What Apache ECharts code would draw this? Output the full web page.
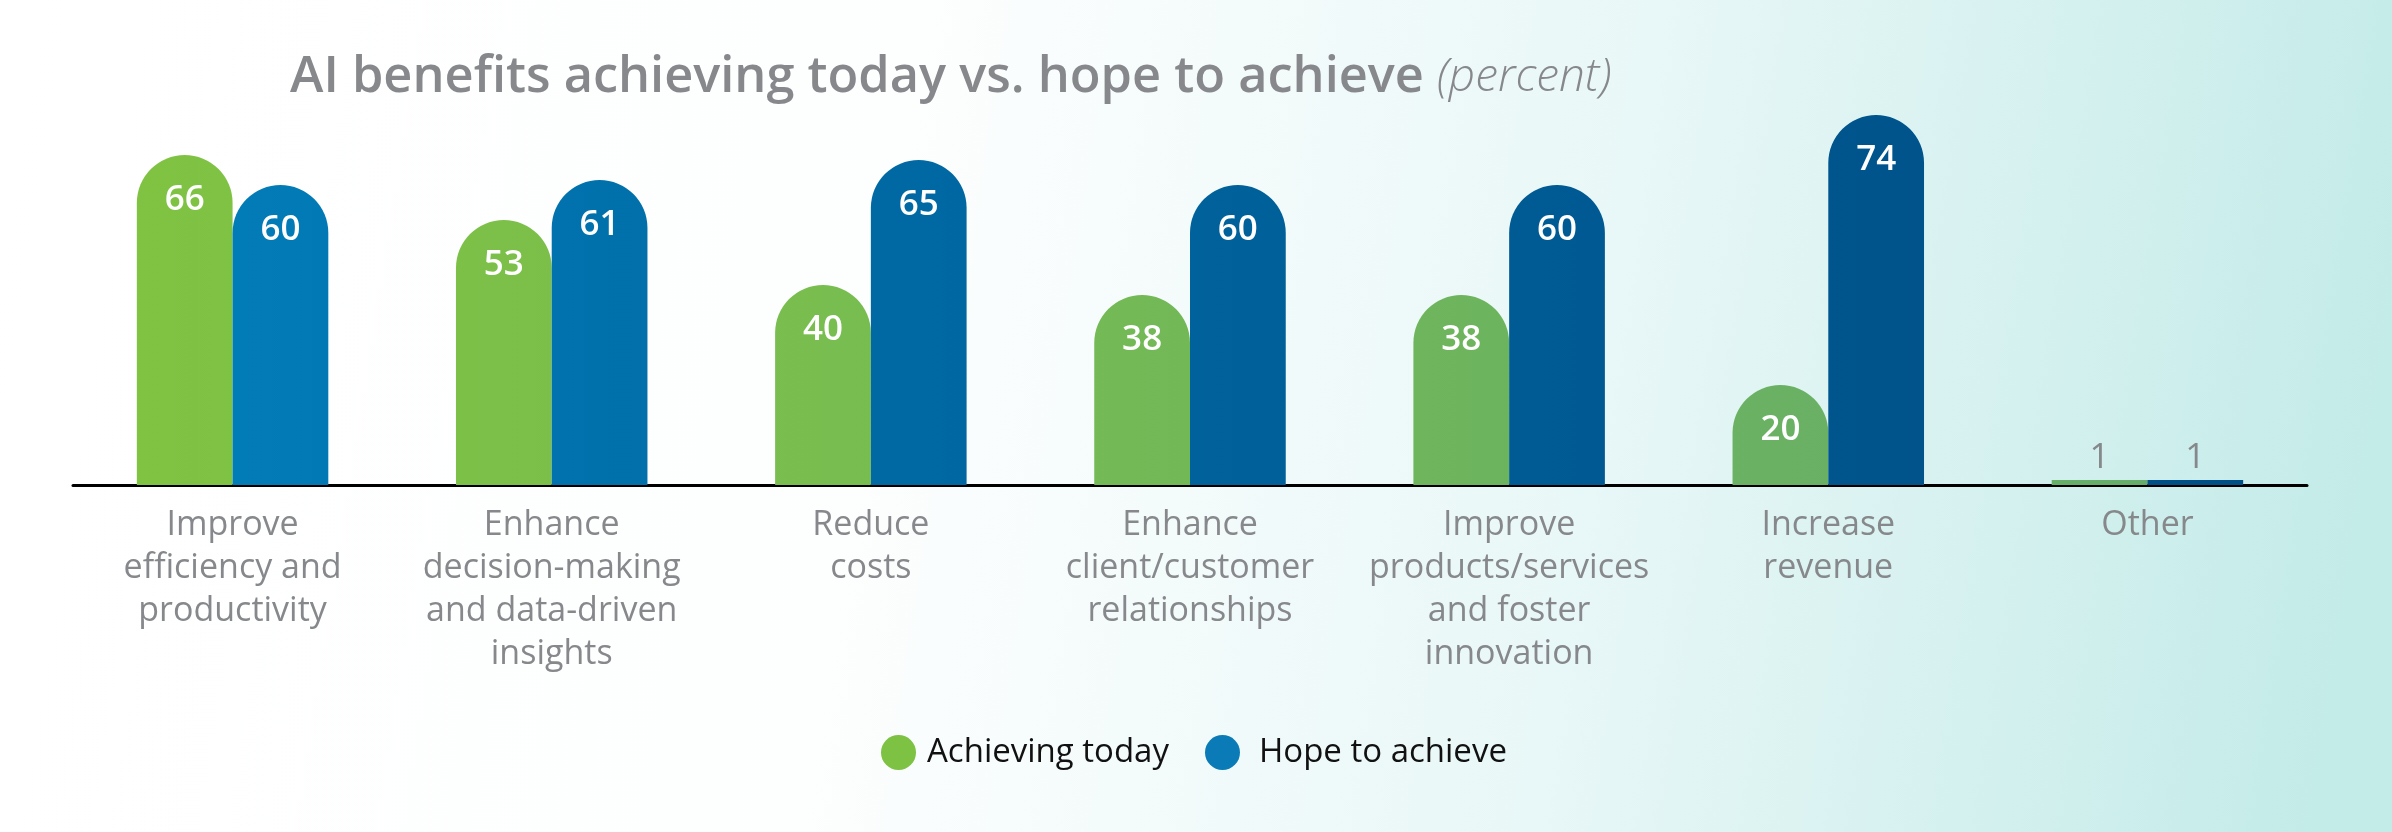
<!DOCTYPE html>
<html>
<head>
<meta charset="utf-8">
<script src="https://cdn.jsdelivr.net/npm/echarts@6/dist/echarts.min.js"></script>
<style>
html,body{margin:0;padding:0;background:#fff;}
#chart{width:2392px;height:832px;}
</style>
</head>
<body>
<div id="chart"></div>
<script>
const categories = [
  "Improve\nefficiency and\nproductivity",
  "Enhance\ndecision-making\nand data-driven\ninsights",
  "Reduce\ncosts",
  "Enhance\nclient/customer\nrelationships",
  "Improve\nproducts/services\nand foster\ninnovation",
  "Increase\nrevenue",
  "Other"
];
const achievingToday = [66, 53, 40, 38, 38, 20, 1];
const hopeToAchieve = [60, 61, 65, 60, 60, 74, 1];
const seriesNames = ["Achieving today", "Hope to achieve"];
const titleMain = "AI benefits achieving today vs. hope to achieve";
const titleUnit = "(percent)";

const chart = echarts.init(document.getElementById('chart'));
const gray = '#86888b';

function grad(stops) {
  return { type: 'linear', x: 0, y: 0, x2: 2392, y2: 0, global: true,
    colorStops: stops };
}
const greenGrad = grad([
  { offset: 0.05, color: '#80c342' },
  { offset: 0.35, color: '#78bd4f' },
  { offset: 0.62, color: '#6db45e' },
  { offset: 0.9, color: '#66ad6b' }
]);
const blueGrad = grad([
  { offset: 0.08, color: '#027db8' },
  { offset: 0.35, color: '#006aa5' },
  { offset: 0.6, color: '#005c95' },
  { offset: 0.9, color: '#004f87' }
]);

function makeData(values) {
  return values.map(v => {
    const small = v < 5;
    return {
      value: v,
      itemStyle: { borderRadius: small ? 0 : [48, 48, 0, 0] },
      label: small ? { position: 'top', color: gray, distance: 4, fontWeight: 'normal' } : {}
    };
  });
}

const labelCfg = {
  show: true, position: 'insideTop', distance: 28,
  color: '#ffffff', fontFamily: 'Open Sans', fontSize: 35, fontWeight: 600
};

chart.setOption({
  backgroundColor: { type: 'linear', x: 0, y: 0, x2: 1, y2: 0.45,
    colorStops: [
      { offset: 0, color: '#ffffff' },
      { offset: 0.38, color: '#fdfefe' },
      { offset: 0.68, color: '#e8f7f7' },
      { offset: 1, color: '#c3ebe8' }
    ] },
  animation: false,
  title: {
    left: 285, top: 47,
    text: '{a|' + titleMain + '}{b|' + titleUnit + '}',
    textStyle: {
      rich: {
        a: { fontFamily: 'Open Sans', fontSize: 50.5, fontWeight: 600, color: gray },
        b: { fontFamily: 'Open Sans', fontSize: 46, fontWeight: 300, fontStyle: 'italic',
             color: gray, padding: [0, 0, 0, 13] }
      }
    }
  },
  legend: {
    top: 730, left: 876,
    itemWidth: 35, itemHeight: 35, itemGap: 36, icon: 'circle',
    textStyle: { fontFamily: 'Open Sans', fontSize: 33, color: '#111111', padding: [0, 0, 0, 6] },
    data: [
      { name: seriesNames[0], itemStyle: { color: '#7dc242' } },
      { name: seriesNames[1], itemStyle: { color: '#0a7bb7' },
        textStyle: { padding: [0, 0, 0, 14] } }
    ]
  },
  grid: { left: 73, right: 85, top: 85, bottom: 347, containLabel: false },
  xAxis: {
    type: 'category', data: categories,
    axisLine: { lineStyle: { color: '#000000', width: 3 } },
    axisTick: { show: false },
    axisLabel: {
      interval: 0, margin: 19, color: gray, fontFamily: 'Open Sans',
      fontSize: 34, lineHeight: 43, align: 'center'
    }
  },
  yAxis: { type: 'value', min: 0, max: 80, show: false, splitLine: { show: false } },
  series: [
    { name: seriesNames[0], type: 'bar', data: makeData(achievingToday),
      barCategoryGap: '40%', barGap: '0%',
      itemStyle: { color: greenGrad }, label: labelCfg },
    { name: seriesNames[1], type: 'bar', data: makeData(hopeToAchieve),
      barCategoryGap: '40%', barGap: '0%',
      itemStyle: { color: blueGrad }, label: labelCfg }
  ]
});
</script>
</body>
</html>
